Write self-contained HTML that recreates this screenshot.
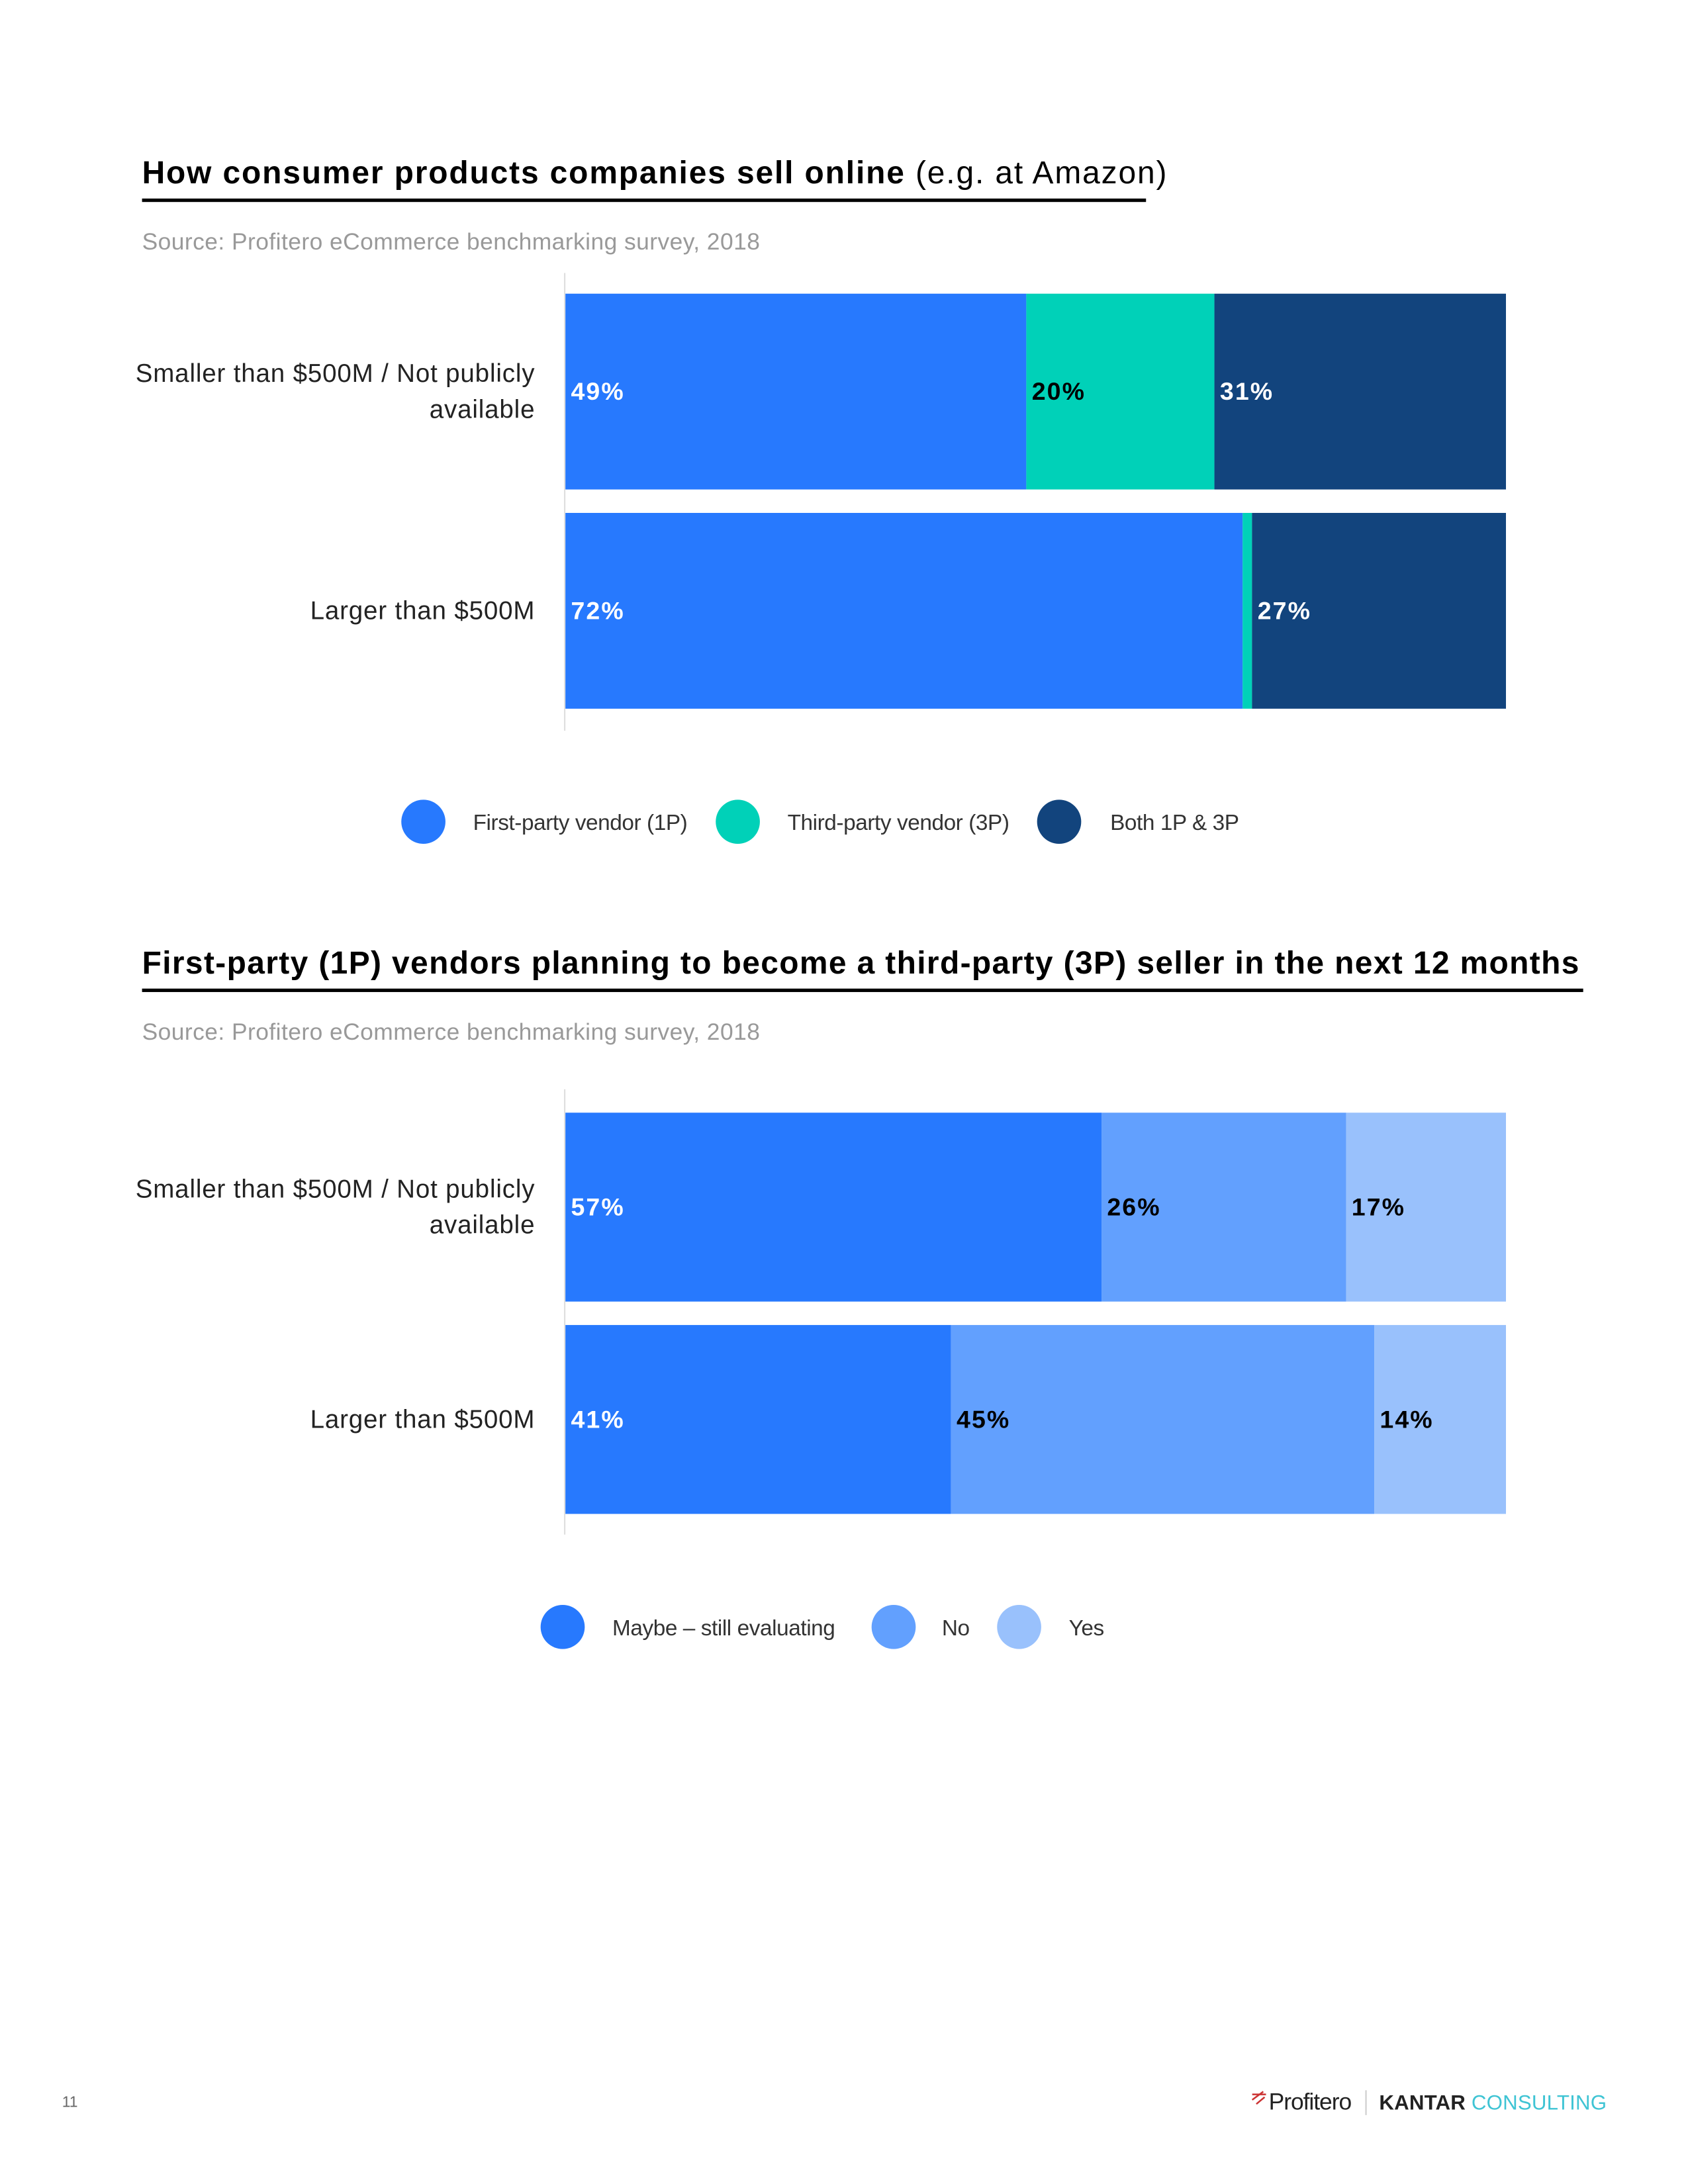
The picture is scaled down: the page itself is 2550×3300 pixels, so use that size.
<!DOCTYPE html>
<html><head><meta charset="utf-8"><style>
html,body{margin:0;padding:0;background:#fff}
svg{display:block}
text{font-family:"Liberation Sans","DejaVu Sans",sans-serif}
</style></head><body>
<svg id="s" width="2550" height="3300" viewBox="0 0 1224 1584" xmlns="http://www.w3.org/2000/svg">
<text x="103" y="133" font-size="23" font-weight="bold" fill="#000" textLength="743" lengthAdjust="spacing">How consumer products companies sell online <tspan font-weight="normal">(e.g. at Amazon)</tspan></text>
<rect x="103" y="144" width="728" height="2.5" fill="#000"/>
<text x="103" y="181" font-size="17" fill="#999" textLength="448" lengthAdjust="spacing">Source: Profitero eCommerce benchmarking survey, 2018</text>
<text x="103" y="706" font-size="23" font-weight="bold" fill="#000" textLength="1042" lengthAdjust="spacing">First-party (1P) vendors planning to become a third-party (3P) seller in the next 12 months</text>
<rect x="103" y="717" width="1045" height="2.5" fill="#000"/>
<text x="103" y="754" font-size="17" fill="#999" textLength="448" lengthAdjust="spacing">Source: Profitero eCommerce benchmarking survey, 2018</text>
<g id="c1"></g>
<g id="c2"></g>
<text x="45" y="1528" font-size="11" fill="#666">11</text>
<g>
<text x="920" y="1530" font-size="17" fill="#222" letter-spacing="-0.5">Profitero</text>
<path d="M908 1519 l10 0 M908 1523 l8 -6 M911 1526 l6 -5" stroke="#c33" stroke-width="1.2"/>
</g>
<rect x="990" y="1516" width="1" height="18" fill="#ccc"/>
<text x="1000" y="1530" font-size="15" textLength="165" lengthAdjust="spacing"><tspan font-weight="bold" fill="#222">KANTAR</tspan><tspan fill="#3fc4d4"> CONSULTING</tspan></text>
<script>
const c1Categories=["Smaller than $500M / Not publicly|available","Larger than $500M"];
const c1Series=["First-party vendor (1P)","Third-party vendor (3P)","Both 1P & 3P"];
const c1Values=[[49,20,31],[72,1,27]];
const c1Colors=["#2779fe","#00d1b8","#12447d"];
const c1LabelColors=["#fff","#000","#fff"];
const c2Categories=["Smaller than $500M / Not publicly|available","Larger than $500M"];
const c2Series=["Maybe – still evaluating","No","Yes"];
const c2Values=[[57,26,17],[41,45,14]];
const c2Colors=["#2779fe","#62a0fe","#99c1fc"];
const c2LabelColors=["#fff","#000","#000"];
const NS="http://www.w3.org/2000/svg";
function mk(p,t,a){const e=document.createElementNS(NS,t);for(const k in a)e.setAttribute(k,a[k]);p.appendChild(e);return e;}
function draw(g,cats,series,vals,colors,lc,o){
  const x=v=>o.x0+v/100*(o.x1-o.x0);
  const ax=mk(g,'rect',{x:o.x0-1,y:o.axTop,width:1,height:o.axBot-o.axTop,fill:'#ddd'});
  
  
  cats.forEach((c,i)=>{
    const y=o.y0+i*o.step;
    let acc=0;
    vals[i].forEach((v,j)=>{
      const r=mk(g,'rect',{x:x(acc),y:y,width:x(acc+v)-x(acc),height:o.h,fill:colors[j]});
      
      
      if(v>=5){
        const t=mk(g,'text',{x:x(acc)+4,y:y+o.h/2+6,'font-size':18,'font-weight':'bold',fill:lc[j],'letter-spacing':'1'});
        t.textContent=v+'%';
        
        
      }
      acc+=v;
    });
    const parts=c.split('|');
    parts.forEach((p,k)=>{
      const t=mk(g,'text',{x:388,y:y+o.h/2+6+(k-(parts.length-1)/2)*26,'font-size':18.5,'text-anchor':'end',fill:'#222','letter-spacing':'0.4'});
      t.textContent=p;
      
      
    });
  });
  series.forEach((s,j)=>{
    const c=mk(g,'circle',{cx:o.lc[j],cy:o.ly,r:16,fill:colors[j]});
    
    
    const t=mk(g,'text',{x:o.lt[j],y:o.ly+6,'font-size':16,fill:'#333','letter-spacing':'-0.2'});
    t.textContent=s;
    
    
  });
}
draw(document.getElementById('c1'),c1Categories,c1Series,c1Values,c1Colors,c1LabelColors,
 {x0:410,x1:1092,y0:213,step:159,h:142,axTop:198,axBot:530,ly:596,lc:[307,535,768],lt:[343,571,805]});
draw(document.getElementById('c2'),c2Categories,c2Series,c2Values,c2Colors,c2LabelColors,
 {x0:410,x1:1092,y0:807,step:154,h:137,axTop:790,axBot:1113,ly:1180,lc:[408,648,739],lt:[444,683,775]});
</script>
</svg>
</body></html>
